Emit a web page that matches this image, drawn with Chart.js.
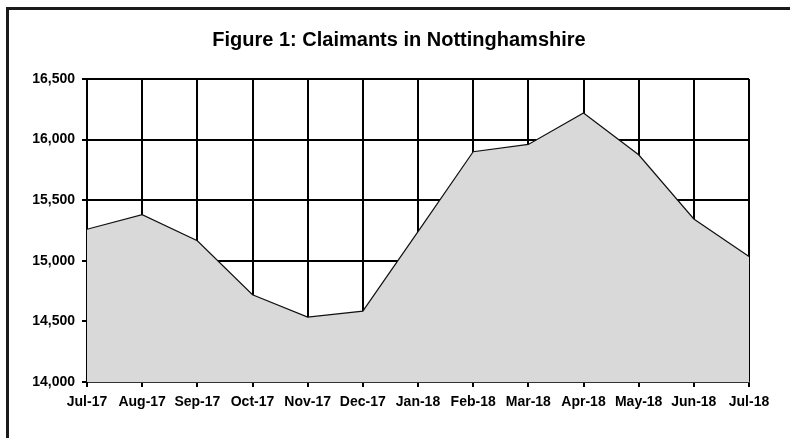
<!DOCTYPE html>
<html>
<head>
<meta charset="utf-8">
<script src="https://cdn.jsdelivr.net/npm/chart.js@4.4.0/dist/chart.umd.min.js"></script>
<style>
    html, body { margin: 0; padding: 0; background: #fff; overflow: hidden; }
    #wrap { position: relative; width: 790px; height: 438px; }
    #frame {
        position: absolute; left: 6px; top: 7px; width: 900px; height: 600px;
        border-top: 3px solid #1a1a1a; border-left: 3px solid #1a1a1a;
    }
    canvas { position: absolute; left: 0; top: 0; }
</style>
</head>
<body>
<div id="wrap">
    <div id="frame"></div>
    <canvas id="claimantsChart" width="790" height="438"></canvas>
</div>
<script>
// Claimant counts
const months = ['Jul-17', 'Aug-17', 'Sep-17', 'Oct-17', 'Nov-17', 'Dec-17',
    'Jan-18', 'Feb-18', 'Mar-18', 'Apr-18', 'May-18', 'Jun-18', 'Jul-18'];
const claimants = [15260, 15380, 15165, 14720, 14535, 14585,
    15240, 15900, 15960, 16220, 15875, 15345, 15035];
const yTicks = [14000, 14500, 15000, 15500, 16000, 16500];

const tickFont = { family: '"Liberation Sans", Arial, sans-serif', size: 14, weight: 'bold' };

document.addEventListener('DOMContentLoaded', () => {
    const ctx = document.getElementById('claimantsChart');

    new Chart(ctx, {
        type: 'line',
        data: {
            labels: months,
            datasets: [{
                data: claimants,
                fill: 'start',
                backgroundColor: '#d9d9d9',
                borderColor: '#111',
                borderWidth: 1.2,
                pointRadius: 0,
                tension: 0
            }]
        },
        options: {
            responsive: false,
            animation: false,
            layout: { padding: { left: 8, right: 0, top: 0, bottom: 0 } },
            plugins: {
                legend: { display: false },
                tooltip: { enabled: false },
                title: {
                    display: true,
                    text: 'Figure 1: Claimants in Nottinghamshire',
                    color: '#000',
                    font: { family: '"Liberation Sans", Arial, sans-serif', size: 20, weight: 'bold', lineHeight: 1.2 },
                    padding: { top: 28, bottom: 27 }
                }
            },
            scales: {
                x: {
                    offset: false,
                    grid: { color: '#000', lineWidth: 2, tickLength: 5, offset: false },
                    border: { color: '#333', width: 2 },
                    ticks: { color: '#000', font: tickFont, padding: 7, maxRotation: 0, autoSkip: false },
                    afterFit: (scale) => { scale.height = 56; }
                },
                y: {
                    min: 14000,
                    max: 16500,
                    afterBuildTicks: (scale) => { scale.ticks = yTicks.map(v => ({ value: v })); },
                    grid: { color: '#000', lineWidth: 2, tickLength: 5 },
                    border: { color: '#000', width: 2 },
                    ticks: {
                        color: '#000', font: tickFont, padding: 7,
                        callback: (v) => v.toLocaleString('en-GB')
                    },
                    afterFit: (scale) => { scale.width = 79; }
                },
                // empty right-hand axis, only reserves the margin on the right
                spacer: {
                    position: 'right',
                    display: true,
                    grid: { display: false },
                    border: { display: false },
                    ticks: { display: false },
                    afterFit: (scale) => { scale.width = 41; }
                }
            }
        }
    });
});
</script>
</body>
</html>
